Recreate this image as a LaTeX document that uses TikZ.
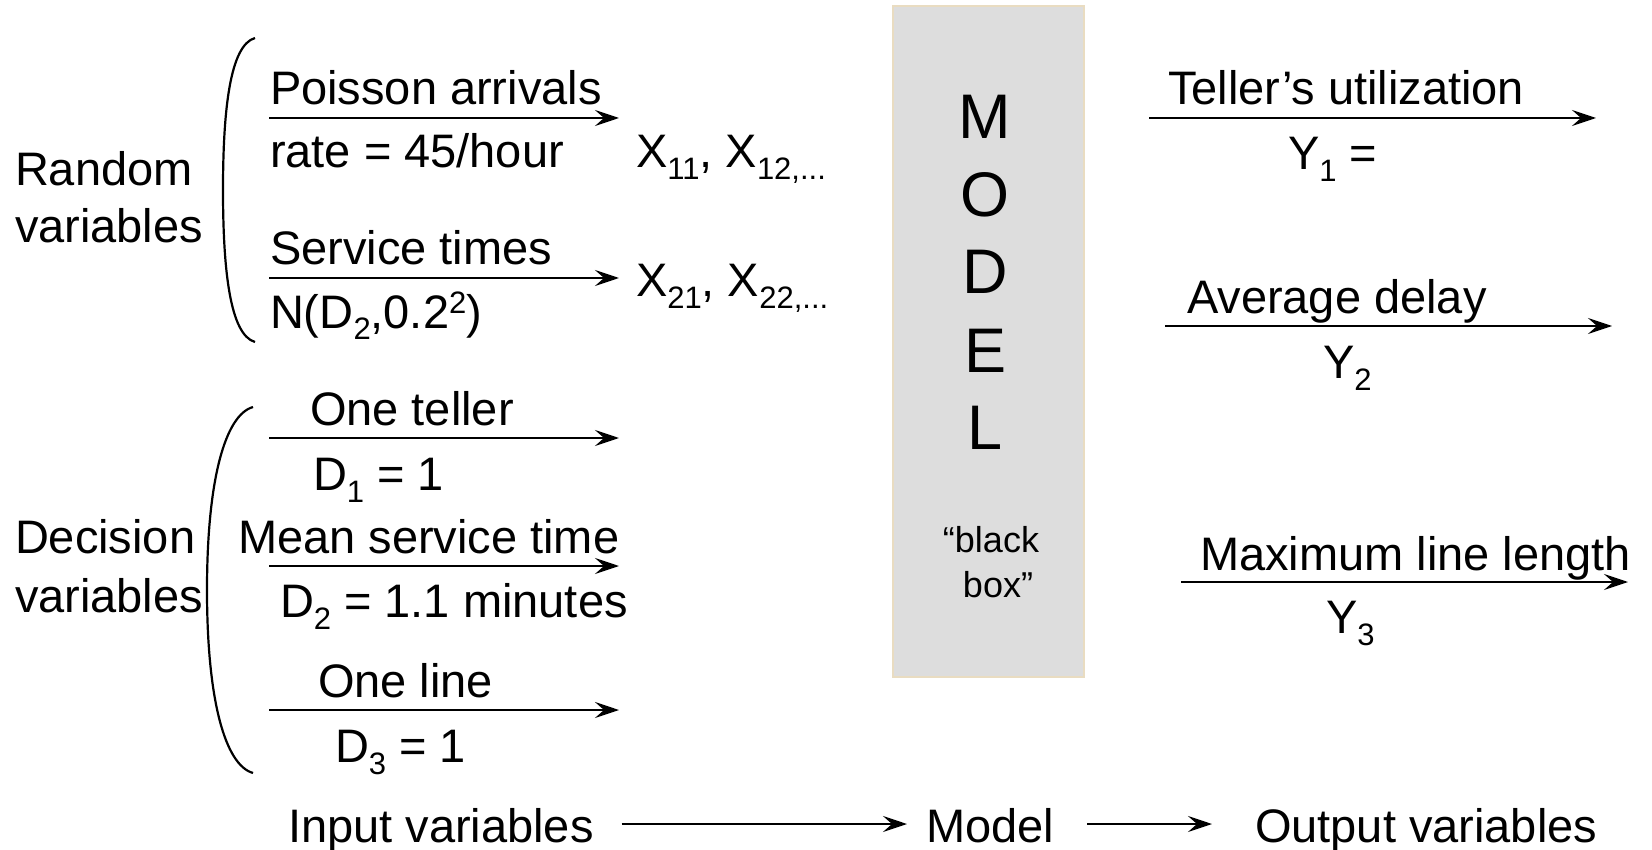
\documentclass[tikz,border=0pt]{standalone}
\usepackage{fontspec}
\setmainfont{Liberation Sans}
\usetikzlibrary{arrows.meta}
\definecolor{boxfill}{HTML}{DDDDDD}
\definecolor{boxline}{HTML}{E9DCC1}
\newcommand\sbs[1]{\raisebox{-12pt}{\fontsize{31}{31}\selectfont #1}}
\newcommand\sps[1]{\raisebox{15pt}{\fontsize{31}{31}\selectfont #1}}
\begin{document}
\begin{tikzpicture}[x=1pt,y=-1pt,
  every node/.style={inner sep=0pt, outer sep=0pt, font=\fontsize{47}{56}\selectfont},
  lbl/.style={anchor=base west},
  arr/.style={line width=2.5pt, -{Stealth[length=24pt,width=16pt,inset=9pt]}},
  brk/.style={line width=2.2pt},
  letter/.style={anchor=base, font=\fontsize{63}{70}\selectfont},
  small/.style={anchor=base, font=\fontsize{36}{45}\selectfont}]
\useasboundingbox (0,0) rectangle (1652,850);

% left labels
\node[lbl] (rnd1) at (15,186) {Random};
\node[lbl] (rnd2) at (15,243) {variables};
\node[lbl] (dec1) at (15,553) {Decision};
\node[lbl] (dec2) at (15,612) {variables};

% brackets
\draw[brk] (255,38) .. controls (230,45) and (223,110) .. (223,190)
  .. controls (223,270) and (230,335) .. (255,342);
\draw[brk] (253,407) .. controls (225,415) and (207,480) .. (207,590)
  .. controls (207,700) and (225,765) .. (253,773);

% random variable arrows
\coordinate (a1s) at (269,118); \coordinate (a1e) at (619,118);
\coordinate (a2s) at (269,278); \coordinate (a2e) at (619,278);
\draw[arr] (a1s) -- (a1e);
\draw[arr] (a2s) -- (a2e);
\node[lbl] (poi) at (270,105) {Poisson arrivals};
\node[lbl] (rate) at (270,168) {rate = 45/hour};
\node[lbl] (serv) at (270,265) {Service times};
\node[lbl] (norm) at (270,328) {N(D\sbs{2},0.2\sps{2})};
\node[lbl] (x1) at (636,168) {X\sbs{11}, X\sbs{12,...}};
\node[lbl] (x2) at (636,297) {X\sbs{21}, X\sbs{22,...}};

% decision variable arrows
\coordinate (b1s) at (269,438); \coordinate (b1e) at (619,438);
\coordinate (b2s) at (269,566); \coordinate (b2e) at (619,566);
\coordinate (b3s) at (269,710); \coordinate (b3e) at (619,710);
\draw[arr] (b1s) -- (b1e);
\draw[arr] (b2s) -- (b2e);
\draw[arr] (b3s) -- (b3e);
\node[lbl] (tel) at (310,425) {One teller};
\node[lbl] (d1) at (313,490) {D\sbs{1} = 1};
\node[lbl] (mst) at (238,553) {Mean service time};
\node[lbl] (d2) at (280,617) {D\sbs{2} = 1.1 minutes};
\node[lbl] (line) at (318,697) {One line};
\node[lbl] (d3) at (335,762) {D\sbs{3} = 1};

% model box
\node[draw=boxline, fill=boxfill, line width=2pt, anchor=north west,
  minimum width=191pt, minimum height=671pt] (box) at (893,6) {};
\node[letter] (lm) at (985,139) {M};
\node[letter] (lo) at (985,217) {O};
\node[letter] (ld) at (985,294) {D};
\node[letter] (le) at (985,372) {E};
\node[letter] (ll) at (985,449) {L};
\node[small] (bb1) at (991,552) {“black};
\node[small] (bb2) at (998,597) {box”};

% output arrows
\coordinate (c1s) at (1149,118); \coordinate (c1e) at (1596,118);
\coordinate (c2s) at (1165,326); \coordinate (c2e) at (1612,326);
\coordinate (c3s) at (1181,582); \coordinate (c3e) at (1628,582);
\draw[arr] (c1s) -- (c1e);
\draw[arr] (c2s) -- (c2e);
\draw[arr] (c3s) -- (c3e);
\node[lbl] (tu) at (1168,105) {Teller’s utilization};
\node[lbl] (y1) at (1288,170) {Y\sbs{1} =};
\node[lbl] (ad) at (1187,313) {Average delay};
\node[lbl] (y2) at (1323,378) {Y\sbs{2}};
\node[lbl] (ml) at (1200,570) {Maximum line length};
\node[lbl] (y3) at (1326,633) {Y\sbs{3}};

% bottom row
\node[lbl] (in) at (288,842) {Input variables};
\node[lbl] (mdl) at (926,842) {Model};
\node[lbl] (out) at (1255,842) {Output variables};
\draw[arr] ([shift={(28,-18)}]in.base east) -- ([shift={(-19,-18)}]mdl.base west);
\draw[arr] ([shift={(33,-18)}]mdl.base east) -- ([shift={(-43,-18)}]out.base west);
\end{tikzpicture}
\end{document}
